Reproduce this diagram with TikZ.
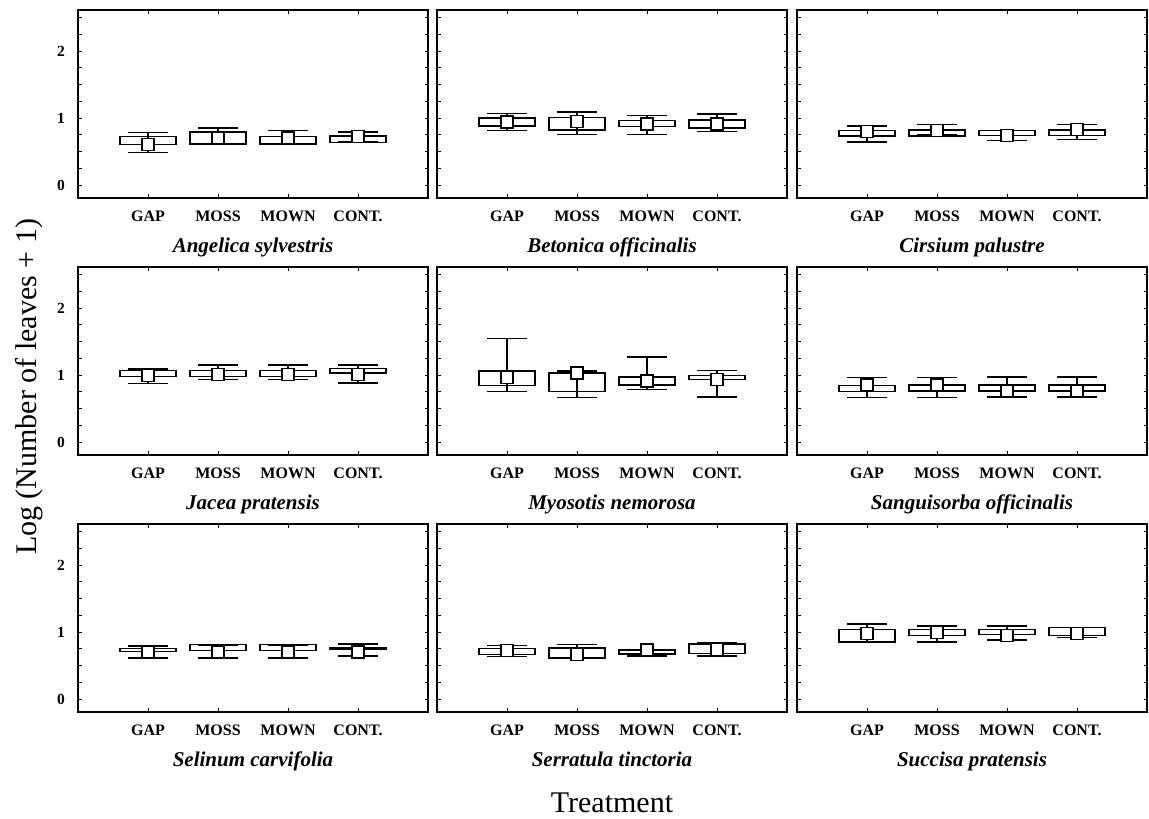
\documentclass[tikz,border=0pt]{standalone}
\usepackage{fontspec}
\setmainfont{Liberation Serif}
\tikzset{
  frame/.style={line width=1.6pt},
  tck/.style={line width=0.9pt},
  bxs/.style={line width=1.3pt},
  cat/.style={font=\fontsize{16}{18}\selectfont\bfseries, anchor=base, inner sep=0pt},
  species/.style={font=\fontsize{21}{24}\selectfont\bfseries\itshape, anchor=base, inner sep=0pt},
  ticklab/.style={font=\fontsize{15.5}{17}\selectfont\bfseries, anchor=east, inner sep=0pt},
  axtitle/.style={font=\fontsize{30}{34}\selectfont, anchor=base, inner sep=0pt},
  panel/.style 2 args={shift={(#1pt,-#2pt)}, x=70pt, y=67pt}
}
\newcommand{\pframe}[2]{%
  \draw[frame] (0,-0.19) rectangle (5,2.61);
  \foreach \v in {0,0.25,...,2.5} {\draw[tck] (0,\v) -- ++(3.5pt,0); \draw[tck] (5,\v) -- ++(-3.5pt,0);}
  \foreach \c/\t in {1/GAP,2/MOSS,3/MOWN,4/CONT.} {%
    \draw[tck] (\c,-0.19) -- ++(0,4pt);
    \draw[tck] (\c,2.61) -- ++(0,-4pt);
    \node[cat] (#2-c\c) at (\c,-0.552) {\t};}
  \node[species] (#2-sp) at (2.5,-1.0) {#1};
}
\newcommand{\ylabs}[1]{%
  \foreach \v in {0,1,2} {\node[ticklab] (#1-y\v) at (-0.186,\v) {\v};}
}
% #1 category, #2 box low, #3 box high, #4 mean, #5 whisker low, #6 whisker high
\newcommand{\bx}[6]{%
  \draw[bxs, fill=white] (#1-0.4,#2) rectangle (#1+0.4,#3);
  \draw[bxs] (#1,#4) -- (#1,#6) (#1,#4) -- (#1,#5);
  \draw[bxs] (#1-0.285,#6) -- (#1+0.285,#6) (#1-0.285,#5) -- (#1+0.285,#5);
  \draw[bxs, fill=white] (#1,#4) ++(-6pt,-6pt) rectangle ++(12pt,12pt);
}
\begin{document}
\begin{tikzpicture}[x=1pt,y=-1pt]
\useasboundingbox (0,0) rectangle (1149,819);
\fill[white] (0,0) rectangle (1149,819);

% Row 1
\begin{scope}[panel={78}{185}]
  \pframe{Angelica sylvestris}{p1}\ylabs{p1}
  \bx{1}{0.60}{0.72}{0.60}{0.48}{0.78}
  \bx{2}{0.61}{0.79}{0.70}{0.61}{0.85}
  \bx{3}{0.61}{0.72}{0.70}{0.62}{0.81}
  \bx{4}{0.63}{0.73}{0.72}{0.64}{0.79}
\end{scope}
\begin{scope}[panel={437}{185}]
  \pframe{Betonica officinalis}{p2}
  \bx{1}{0.88}{1.00}{0.94}{0.81}{1.07}
  \bx{2}{0.82}{1.01}{0.95}{0.75}{1.09}
  \bx{3}{0.87}{0.96}{0.91}{0.75}{1.04}
  \bx{4}{0.85}{0.97}{0.91}{0.80}{1.06}
\end{scope}
\begin{scope}[panel={797}{185}]
  \pframe{Cirsium palustre}{p3}
  \bx{1}{0.73}{0.81}{0.80}{0.64}{0.88}
  \bx{2}{0.73}{0.82}{0.81}{0.75}{0.90}
  \bx{3}{0.74}{0.81}{0.74}{0.66}{0.81}
  \bx{4}{0.74}{0.82}{0.83}{0.68}{0.90}
\end{scope}

% Row 2
\begin{scope}[panel={78}{442}]
  \pframe{Jacea pratensis}{p4}\ylabs{p4}
  \bx{1}{0.98}{1.07}{0.99}{0.87}{1.09}
  \bx{2}{0.98}{1.07}{1.01}{0.93}{1.15}
  \bx{3}{0.98}{1.07}{1.01}{0.93}{1.15}
  \bx{4}{1.03}{1.10}{1.01}{0.88}{1.15}
\end{scope}
\begin{scope}[panel={437}{442}]
  \pframe{Myosotis nemorosa}{p5}
  \bx{1}{0.84}{1.06}{0.96}{0.75}{1.55}
  \bx{2}{0.75}{1.03}{1.03}{0.66}{1.06}
  \bx{3}{0.85}{0.97}{0.91}{0.78}{1.27}
  \bx{4}{0.93}{0.99}{0.93}{0.67}{1.07}
\end{scope}
\begin{scope}[panel={797}{442}]
  \pframe{Sanguisorba officinalis}{p6}
  \bx{1}{0.75}{0.84}{0.85}{0.66}{0.96}
  \bx{2}{0.76}{0.85}{0.85}{0.66}{0.96}
  \bx{3}{0.76}{0.85}{0.76}{0.67}{0.97}
  \bx{4}{0.76}{0.85}{0.76}{0.67}{0.97}
\end{scope}

% Row 3
\begin{scope}[panel={78}{699}]
  \pframe{Selinum carvifolia}{p7}\ylabs{p7}
  \bx{1}{0.71}{0.75}{0.70}{0.61}{0.79}
  \bx{2}{0.72}{0.81}{0.70}{0.61}{0.80}
  \bx{3}{0.72}{0.81}{0.70}{0.61}{0.80}
  \bx{4}{0.74}{0.76}{0.70}{0.64}{0.82}
\end{scope}
\begin{scope}[panel={437}{699}]
  \pframe{Serratula tinctoria}{p8}
  \bx{1}{0.66}{0.75}{0.72}{0.63}{0.80}
  \bx{2}{0.61}{0.76}{0.66}{0.61}{0.81}
  \bx{3}{0.67}{0.73}{0.73}{0.64}{0.73}
  \bx{4}{0.68}{0.82}{0.74}{0.64}{0.84}
\end{scope}
\begin{scope}[panel={797}{699}]
  \pframe{Succisa pratensis}{p9}
  \bx{1}{0.85}{1.04}{0.98}{0.85}{1.12}
  \bx{2}{0.95}{1.04}{0.99}{0.85}{1.09}
  \bx{3}{0.96}{1.04}{0.95}{0.88}{1.09}
  \bx{4}{0.95}{1.07}{0.98}{0.92}{1.07}
\end{scope}

\node[axtitle, rotate=90] (ylab) at (36,387) {Log (Number of leaves + 1)};
\node[axtitle] (xlab) at (612,812) {Treatment};
\end{tikzpicture}
\end{document}
